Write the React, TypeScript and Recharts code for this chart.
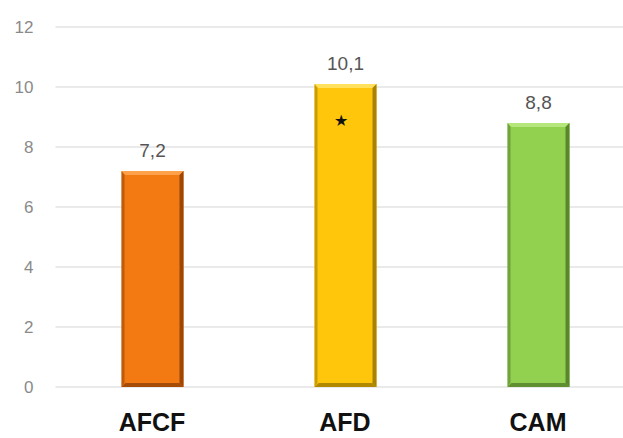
import React from 'react';
import { BarChart, Bar, XAxis, YAxis, CartesianGrid, LabelList } from 'recharts';

const categories = ['AFCF', 'AFD', 'CAM'];
const values = [7.2, 10.1, 8.8];
const yTicks = [0, 2, 4, 6, 8, 10, 12];
const starred = ['AFD'];

// face / highlight / shadow per bar
const palette: Record<string, [string, string, string]> = {
  AFCF: ['#F37A12', '#FDA24A', '#9C4706'],
  AFD: ['#FFC60B', '#FFE15E', '#A88200'],
  CAM: ['#92D050', '#B6E77C', '#5A872B'],
};

const data = categories.map((name, i) => ({ name, value: values[i] }));

const BevelBar = (props: any) => {
  const { x, y, width, height, payload } = props;
  if (height <= 0) return null;
  const [face, light, dark] = palette[payload.name];
  const b = 4;
  const r = x + width;
  const bot = y + height;
  return (
    <g>
      <rect x={x} y={y} width={width} height={height} fill={face} />
      {/* top highlight */}
      <polygon points={`${x},${y} ${r},${y} ${r - b},${y + b} ${x + b},${y + b}`} fill={light} />
      {/* left edge */}
      <polygon points={`${x},${y} ${x + b - 1},${y + b} ${x + b - 1},${bot - b} ${x},${bot}`} fill={dark} opacity={0.6} />
      {/* right edge */}
      <polygon points={`${r},${y} ${r - b},${y + b} ${r - b},${bot - b} ${r},${bot}`} fill={dark} />
      {/* bottom edge */}
      <polygon points={`${x},${bot} ${x + b},${bot - b} ${r - b},${bot - b} ${r},${bot}`} fill={dark} opacity={0.9} />
      {starred.includes(payload.name) && (
        <text x={x + width / 2 - 5} y={y + 42} textAnchor="middle" fontSize={16} fill="#111">★</text>
      )}
    </g>
  );
};

const fmt = (v: any) => String(v).replace('.', ',');

export default function App() {
  return (
    <div style={{ position: 'fixed', left: 0, top: 0, width: 623, height: 438, overflow: 'hidden', background: '#fff' }}>
      <BarChart
        width={640}
        height={438}
        data={data}
        margin={{ top: 27, right: 5.5, bottom: 0, left: 0 }}
        style={{ fontFamily: '"Liberation Sans", Arial, sans-serif' }}
      >
        <CartesianGrid vertical={false} stroke="#E3E3E3" strokeWidth={1.5} />
        <XAxis
          dataKey="name"
          height={51}
          axisLine={false}
          tickLine={false}
          tickSize={0}
          tickMargin={26}
          tick={{ fill: '#111', fontSize: 25, fontWeight: 700 }}
        />
        <YAxis
          width={55.5}
          domain={[0, 12]}
          ticks={yTicks}
          axisLine={false}
          tickLine={false}
          tickSize={0}
          tickMargin={22}
          tick={{ fill: '#8A8A8A', fontSize: 17 }}
        />
        <Bar dataKey="value" barSize={62} shape={<BevelBar />} isAnimationActive={false}>
          <LabelList dataKey="value" position="top" offset={14} formatter={fmt} fill="#555" fontSize={19} />
        </Bar>
      </BarChart>
    </div>
  );
}
